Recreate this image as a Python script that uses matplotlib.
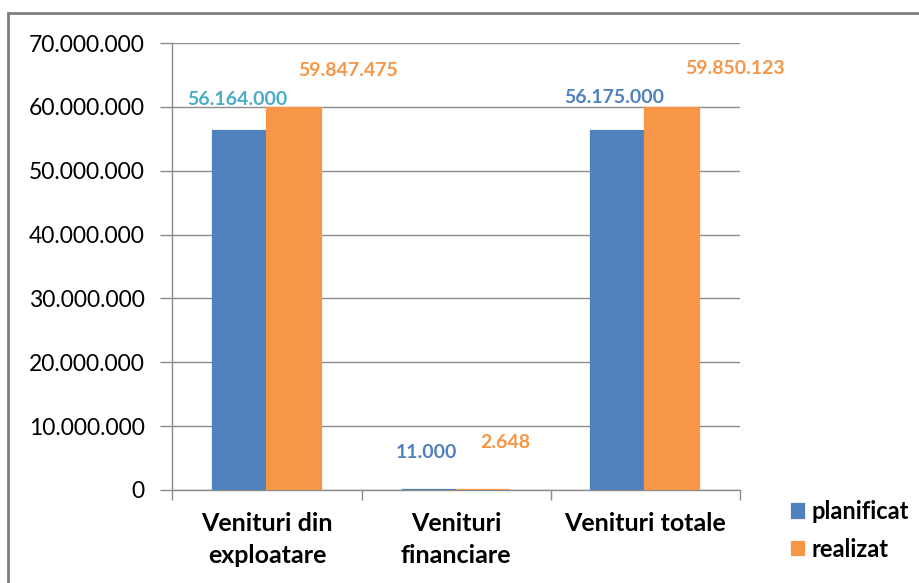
import matplotlib
matplotlib.use("Agg")
import matplotlib.pyplot as plt
from matplotlib.patches import Rectangle
from matplotlib.ticker import FuncFormatter
import numpy as np

plt.rcParams['font.family'] = ['Lato', 'DejaVu Sans']

categories = ["Venituri din\nexploatare", "Venituri\nfinanciare", "Venituri totale"]
planificat = [56164000, 11000, 56175000]
realizat = [59847475, 2648, 59850123]
series_names = ["planificat", "realizat"]

BLUE = '#4F81BD'
ORANGE = '#F79646'
GRID = '#8C8C8C'

fig = plt.figure(figsize=(9.2, 5.83), dpi=100)
ax = fig.add_axes([172.5 / 920, 93 / 583, 567.5 / 920, 447 / 583])

x = np.arange(len(categories))
w = 54 / 189
b1 = ax.bar(x - w / 2, planificat, w, color=BLUE, edgecolor=BLUE, linewidth=1.6, label=series_names[0], zorder=3)
b2 = ax.bar(x + w / 2, realizat, w, color=ORANGE, edgecolor=ORANGE, linewidth=1.6, label=series_names[1], zorder=3)

ax.set_xlim(-0.5, 2.5)
ax.set_ylim(0, 70000000)
ax.set_yticks(np.arange(0, 70000001, 10000000))
ax.yaxis.set_major_formatter(FuncFormatter(lambda v, p: f"{int(v):,}".replace(",", ".")))
ax.grid(axis='y', color=GRID, linewidth=1, zorder=0)
ax.set_axisbelow(True)

ax.set_xticks([-0.5, 0.5, 1.5, 2.5])
ax.set_xticklabels([])
ax.set_xticks(x, minor=True)
ax.set_xticklabels(categories, minor=True, fontsize=18, fontweight='bold', linespacing=1.45)
ax.tick_params(axis='x', which='minor', length=0, pad=16)
ax.tick_params(axis='x', which='major', length=7, color=GRID, width=1)
ax.tick_params(axis='y', length=9, color=GRID, width=1, labelsize=16.5, pad=11)

for s in ['top', 'right']:
    ax.spines[s].set_visible(False)
for s in ['left', 'bottom']:
    ax.spines[s].set_color(GRID)
    ax.spines[s].set_linewidth(1)

def fmt(v):
    return f"{int(v):,}".replace(",", ".")

# manually placed labels, like in the original sheet
blue_off = [(-2, 23), (-2, 27), (-3, 24)]
blue_col = ['#4BACC6', BLUE, BLUE]
orange_off = [(39, 27), (16, 34), (45, 28)]
for i, r in enumerate(b1):
    ax.annotate(fmt(planificat[i]), (r.get_x() + r.get_width() / 2, r.get_height()),
                xytext=blue_off[i], textcoords='offset points', ha='center', va='center',
                fontsize=14, fontweight='bold', color=blue_col[i])
for i, r in enumerate(b2):
    ax.annotate(fmt(realizat[i]), (r.get_x() + r.get_width() / 2, r.get_height()),
                xytext=orange_off[i], textcoords='offset points', ha='center', va='center',
                fontsize=14, fontweight='bold', color=ORANGE)

fig.legend(handles=[b1, b2], labels=series_names, loc='upper left',
           bbox_to_anchor=(783 / 920, 1 - 491 / 583), frameon=False,
           prop={'size': 17, 'weight': 'bold'}, handlelength=0.5, handleheight=0.5,
           handletextpad=0.3, labelspacing=0.6, borderaxespad=0)

# outer chart border
fig.patches.append(Rectangle((8 / 920, -0.05), 1.1, 1 - 13 / 583 + 0.05, transform=fig.transFigure,
                             fill=False, edgecolor='#7F7F7F', linewidth=2, clip_on=False))

fig.savefig("out.png", dpi=100)
